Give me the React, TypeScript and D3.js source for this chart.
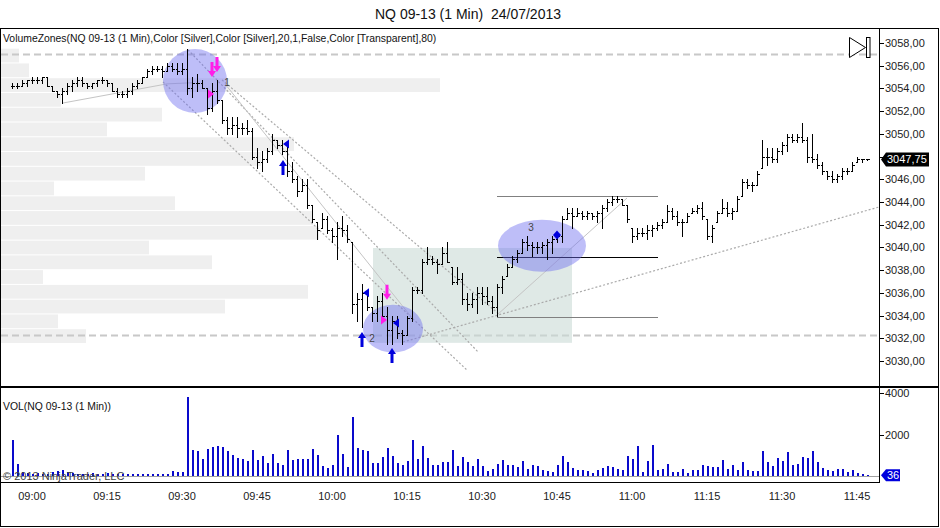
import React from 'react';
import * as d3 from 'd3';

// NQ 09-13, 1 minute bars, first bar at 08:56
const FIRST_BAR_MINUTE = 536;

const highs = [
  3054.5, 3054.5, 3054.75, 3054.75, 3055.0, 3055.0, 3055.0, 3055.0, 3054.25, 3053.75,
  3054.0, 3054.5, 3054.75, 3055.0, 3055.0, 3054.5, 3054.5, 3054.75, 3055.0, 3054.75,
  3054.5, 3054.0, 3053.75, 3054.0, 3054.5, 3054.75, 3055.0, 3055.75, 3056.0, 3056.0,
  3056.0, 3056.25, 3056.25, 3056.25, 3056.25, 3057.5, 3055.0, 3055.25, 3054.75, 3054.0,
  3054.5, 3054.75, 3053.0, 3051.5, 3051.5, 3051.5, 3051.0, 3051.25, 3050.5, 3048.75,
  3048.5, 3048.75, 3050.0, 3049.5, 3049.5, 3049.0, 3047.5, 3046.25, 3046.0, 3046.0,
  3043.75, 3042.25, 3043.0, 3042.75, 3041.75, 3042.25, 3042.75, 3042.0, 3040.5, 3036.0,
  3036.75, 3036.0, 3034.75, 3035.75, 3036.0, 3034.75, 3034.0, 3034.0, 3032.75, 3034.0,
  3036.5, 3036.5, 3039.0, 3040.0, 3039.25, 3039.0, 3040.0, 3040.5, 3038.25, 3038.25,
  3037.75, 3036.0, 3036.0, 3036.5, 3036.5, 3036.5, 3035.75, 3036.75, 3037.5, 3038.5,
  3039.25, 3039.75, 3040.75, 3041.0, 3040.5, 3040.5, 3040.5, 3040.75, 3041.0, 3041.25,
  3042.75, 3043.5, 3043.5, 3043.5, 3043.25, 3043.25, 3043.0, 3043.25, 3043.75, 3044.25,
  3044.5, 3044.5, 3044.25, 3043.75, 3041.75, 3041.75, 3041.75, 3042.0, 3042.0, 3042.25,
  3042.5, 3043.75, 3043.5, 3043.25, 3042.5, 3043.0, 3043.5, 3043.75, 3044.0, 3042.5,
  3042.0, 3043.25, 3044.25, 3044.0, 3043.5, 3044.5, 3046.0, 3046.0, 3045.75, 3046.75,
  3049.5, 3048.75, 3048.75, 3048.75, 3049.25, 3050.0, 3050.0, 3050.0, 3051.0, 3049.75,
  3050.0, 3048.25, 3047.5, 3046.75, 3046.75, 3046.5, 3047.0, 3047.0, 3047.5, 3048.0,
  3047.75, 3047.75,
];

const lows = [
  3054.0, 3054.0, 3054.25, 3054.25, 3054.5, 3054.5, 3054.5, 3054.25, 3053.75, 3053.25,
  3052.75, 3053.5, 3053.75, 3054.25, 3054.25, 3054.0, 3054.0, 3054.25, 3054.5, 3054.25,
  3053.75, 3053.25, 3053.25, 3053.25, 3053.5, 3054.0, 3054.5, 3055.0, 3055.25, 3055.5,
  3055.0, 3055.5, 3055.5, 3055.25, 3055.25, 3053.5, 3053.25, 3053.75, 3054.0, 3051.75,
  3052.0, 3052.75, 3051.0, 3050.0, 3050.0, 3049.75, 3050.0, 3050.0, 3047.75, 3047.0,
  3046.75, 3047.5, 3048.25, 3048.75, 3048.25, 3046.25, 3045.75, 3044.5, 3045.0, 3043.5,
  3042.25, 3040.75, 3041.75, 3041.25, 3040.5, 3039.0, 3041.0, 3040.5, 3034.25, 3033.5,
  3033.0, 3034.5, 3033.5, 3033.5, 3033.75, 3031.5, 3031.5, 3032.0, 3031.5, 3032.25,
  3033.5, 3036.0, 3036.0, 3038.5, 3038.5, 3037.75, 3038.5, 3038.75, 3036.75, 3036.75,
  3035.0, 3034.5, 3034.75, 3034.25, 3035.0, 3035.0, 3034.25, 3034.0, 3036.0, 3037.5,
  3038.25, 3038.75, 3039.5, 3039.75, 3039.25, 3039.5, 3039.5, 3039.0, 3039.5, 3040.5,
  3040.5, 3042.5, 3041.75, 3042.75, 3042.5, 3042.5, 3042.5, 3042.25, 3041.75, 3043.25,
  3043.75, 3044.0, 3043.75, 3042.25, 3040.5, 3040.75, 3041.0, 3040.75, 3041.0, 3041.5,
  3041.75, 3042.25, 3042.5, 3042.0, 3041.0, 3042.25, 3043.0, 3043.0, 3042.5, 3040.75,
  3040.5, 3042.25, 3043.0, 3042.75, 3042.5, 3043.25, 3044.5, 3045.25, 3045.0, 3045.5,
  3047.0, 3047.25, 3047.5, 3047.5, 3048.25, 3048.5, 3049.25, 3049.25, 3049.25, 3047.5,
  3047.5, 3047.0, 3046.5, 3046.0, 3045.75, 3045.75, 3046.0, 3046.5, 3046.75, 3047.5,
  3047.5, 3047.75,
];

const closes = [
  3054.25, 3054.25, 3054.5, 3054.75, 3054.75, 3054.75, 3055.0, 3054.25, 3053.75, 3053.5,
  3053.75, 3054.25, 3054.5, 3054.75, 3054.5, 3054.25, 3054.5, 3054.75, 3054.75, 3054.5,
  3053.75, 3053.5, 3053.5, 3053.75, 3054.25, 3054.5, 3055.0, 3055.5, 3055.75, 3055.75,
  3055.5, 3056.0, 3055.75, 3055.5, 3055.75, 3054.0, 3054.5, 3054.5, 3054.0, 3052.25,
  3053.75, 3053.0, 3051.25, 3050.5, 3050.75, 3050.5, 3050.5, 3050.25, 3048.0, 3047.5,
  3047.75, 3048.5, 3049.5, 3049.0, 3048.5, 3046.75, 3046.0, 3045.0, 3045.5, 3043.75,
  3042.5, 3041.5, 3042.5, 3041.5, 3041.0, 3041.75, 3041.5, 3040.75, 3035.0, 3035.5,
  3036.0, 3034.75, 3034.25, 3035.25, 3034.0, 3032.75, 3033.5, 3032.5, 3032.25, 3033.75,
  3036.25, 3036.25, 3038.75, 3039.0, 3038.75, 3038.5, 3039.5, 3038.75, 3037.0, 3037.25,
  3035.5, 3035.0, 3035.5, 3036.0, 3035.75, 3035.25, 3034.75, 3036.5, 3037.25, 3038.25,
  3039.0, 3039.5, 3040.5, 3040.25, 3040.0, 3040.0, 3040.25, 3040.5, 3040.75, 3041.0,
  3042.5, 3043.0, 3042.75, 3043.0, 3042.75, 3043.0, 3042.75, 3043.0, 3043.5, 3044.0,
  3044.25, 3044.25, 3043.75, 3042.5, 3041.0, 3041.25, 3041.25, 3041.5, 3041.75, 3042.0,
  3042.25, 3043.25, 3042.75, 3042.25, 3042.25, 3042.75, 3043.25, 3043.5, 3042.75, 3041.0,
  3041.75, 3043.0, 3043.5, 3043.0, 3043.25, 3044.25, 3045.75, 3045.5, 3045.5, 3046.5,
  3048.0, 3048.0, 3047.75, 3048.5, 3049.0, 3049.75, 3049.5, 3049.75, 3049.5, 3048.0,
  3047.75, 3047.25, 3046.75, 3046.25, 3046.0, 3046.25, 3046.75, 3046.75, 3047.25, 3047.75,
  3047.75, 3047.75,
];

const volumes = [
  1735, 580, 200, 150, 100, 150, 100, 120, 200, 250,
  300, 200, 150, 100, 120, 100, 150, 100, 100, 150,
  120, 100, 100, 100, 100, 100, 100, 100, 120, 100,
  100, 100, 240, 200, 200, 3820, 1250, 1200, 820, 1300,
  1400, 1450, 1400, 1200, 1010, 850, 820, 720, 1250, 770,
  960, 620, 1060, 620, 520, 1250, 770, 820, 820, 820,
  1300, 1010, 480, 390, 520, 1970, 1060, 430, 2840, 1350,
  1250, 1200, 620, 620, 910, 1350, 960, 620, 520, 720,
  1735, 820, 1450, 870, 520, 520, 670, 670, 1250, 480,
  910, 670, 480, 820, 460, 240, 360, 580, 770, 520,
  520, 430, 720, 360, 520, 480, 290, 240, 200, 520,
  960, 670, 390, 290, 290, 240, 140, 290, 390, 480,
  430, 360, 290, 960, 820, 1450, 200, 720, 1500, 290,
  360, 580, 200, 200, 360, 140, 290, 290, 520, 480,
  430, 430, 770, 360, 520, 290, 670, 290, 240, 240,
  1200, 670, 480, 870, 720, 1150, 520, 580, 910, 870,
  1200, 670, 390, 290, 240, 360, 360, 200, 290, 140,
  100, 36,
];

const timeLabels = ['09:00', '09:15', '09:30', '09:45', '10:00', '10:15', '10:30', '10:45', '11:00', '11:15', '11:30', '11:45'];
const timeTickMinutes = [540, 555, 570, 585, 600, 615, 630, 645, 660, 675, 690, 705];
const priceTicks = [3030, 3032, 3034, 3036, 3038, 3040, 3042, 3044, 3046, 3048, 3050, 3052, 3054, 3056, 3058];
const volumeTicks = [2000, 4000];

// VolumeZones rows (top price, step) and relative volume per row
const zoneTop = 3057.5;
const zoneStep = 1.3;
const zoneVolumes = [18, 28, 439, 60, 161, 106, 293, 260, 144, 53, 174, 312, 318, 148, 211, 42, 307, 224, 57, 85];

// drawing objects in (bar index, price)
const ellipses = [
  { i: 36.6, p: 3054.65, rx: 32, ry: 32 },
  { i: 76.2, p: 3032.85, rx: 30, ry: 24 },
  { i: 106, p: 3040.15, rx: 44, ry: 26 },
];
const dottedLines = [
  [35.2, 3057.4, 93.2, 3030.8],
  [42, 3054.75, 97.6, 3034.05],
  [30.2, 3054.57, 91, 3029.2],
  [78.2, 3031.67, 173.4, 3043.56],
];
const solidLines = [
  [42.6, 3054.4, 80, 3033.8],
  [97, 3034.05, 123, 3044.35],
  [10, 3052.7, 31, 3054.4],
  [31, 3054.4, 36, 3054.5],
];
const rangeLevels = [
  { p: 3044.57, color: '#808080' },
  { p: 3039.2, color: '#000' },
  { p: 3033.9, color: '#808080' },
];
const dashedLevels = [3057.0, 3032.3];
const arrowsUp = [[54.2, 3047.7], [70, 3032.55], [76, 3031.15]];
const arrowsDown = [[40, 3055.0], [41, 3055.45], [75, 3035.4]];
const leftTriangles = [[54.8, 3049.1], [70.8, 3036.0], [76.8, 3033.35]];
const rightTriangles = [[39.8, 3053.5], [74.4, 3033.6]];
const diamonds = [[109, 3041.1]];
const labels = [
  { t: '1', i: 43, p: 3054.55 },
  { t: '2', i: 72, p: 3032.0 },
  { t: '3', i: 103.8, p: 3041.75 },
];

const W = 940;
const H = 528;
const AXIS_X = 879;
const FONT = 'Liberation Sans, Arial, sans-serif';

const x = d3.scaleLinear().domain([540, 705]).range([32, 857]);
const y = d3.scaleLinear().domain([3030, 3058]).range([361, 43]);
const yv = d3.scaleLinear().domain([0, 4000]).range([476, 393]);
const zoneW = d3.scaleLinear().domain([0, d3.max(zoneVolumes) as number]).range([0, 439]);
const bx = (i: number) => x(FIRST_BAR_MINUTE + i);
const fmtPrice = (v: number) => d3.format('.2f')(v).replace('.', ',');
const px = (v: number) => Math.round(v) + 0.5;

const MAGENTA = '#ff1ee8';
const BLUE = '#0000dd';

const upArrow = (tx: number, ty: number) =>
  `M${tx},${ty} L${tx + 4},${ty + 6} L${tx + 1.5},${ty + 6} L${tx + 1.5},${ty + 15} L${tx - 1.5},${ty + 15} L${tx - 1.5},${ty + 6} L${tx - 4},${ty + 6} Z`;
const downArrow = (tx: number, ty: number) =>
  `M${tx},${ty} L${tx + 4},${ty - 6} L${tx + 1.5},${ty - 6} L${tx + 1.5},${ty - 15} L${tx - 1.5},${ty - 15} L${tx - 1.5},${ty - 6} L${tx - 4},${ty - 6} Z`;

export default function App() {
  const opens = closes.map((c, i) => {
    const prev = i === 0 ? c : closes[i - 1];
    return Math.min(highs[i], Math.max(lows[i], prev));
  });
  const lastClose = closes[closes.length - 1];
  const lastVol = volumes[volumes.length - 1];
  // the last-price marker hides the tick label underneath it
  const visiblePriceTicks = priceTicks.filter((p) => Math.abs(y(p) - y(lastClose)) > 9);

  return (
    <svg width={W} height={H} style={{ position: 'absolute', left: 0, top: 0, background: '#fff' }} fontFamily={FONT}>
      <defs>
        <clipPath id="pricePanel">
          <rect x={1} y={29} width={AXIS_X - 1} height={357} />
        </clipPath>
      </defs>
      <rect x={0} y={0} width={W} height={H} fill="#fff" />

      <text x={468} y={19} textAnchor="middle" fontSize={14} fill="#111" style={{ whiteSpace: 'pre' }}>
        NQ 09-13 (1 Min)  24/07/2013
      </text>

      <g clipPath="url(#pricePanel)">
        {zoneVolumes.map((v, k) => {
          const top = y(zoneTop - k * zoneStep);
          const bot = y(zoneTop - (k + 1) * zoneStep);
          return <rect key={k} x={1} y={top} width={zoneW(v)} height={bot - top - 1} fill="#efefef" />;
        })}
        {dashedLevels.map((p, k) => (
          <line key={k} x1={1} x2={AXIS_X} y1={px(y(p))} y2={px(y(p))} stroke="#c8c8c8" strokeWidth={2} strokeDasharray="7,4" />
        ))}
        <rect x={bx(72.2)} y={y(3039.95)} width={bx(112) - bx(72.2)} height={y(3031.6) - y(3039.95)} fill="#c9dad6" fillOpacity={0.6} />
        {dottedLines.map((l, k) => (
          <line key={k} x1={bx(l[0])} y1={y(l[1])} x2={bx(l[2])} y2={y(l[3])} stroke="#aaa" strokeWidth={1.2} strokeDasharray="2,2" />
        ))}
        {solidLines.map((l, k) => (
          <line key={k} x1={bx(l[0])} y1={y(l[1])} x2={bx(l[2])} y2={y(l[3])} stroke="#c4c4c4" strokeWidth={1} />
        ))}
        {rangeLevels.map((r, k) => (
          <line key={k} x1={bx(97)} x2={bx(129.2)} y1={px(y(r.p))} y2={px(y(r.p))} stroke={r.color} strokeWidth={1} />
        ))}
        {ellipses.map((e, k) => (
          <ellipse key={k} cx={bx(e.i)} cy={y(e.p)} rx={e.rx} ry={e.ry} fill="#6f6ff0" fillOpacity={0.45} />
        ))}
        <g stroke="#000" strokeWidth={1} shapeRendering="crispEdges">
          {highs.map((h, i) => {
            const cx = px(bx(i));
            const yh = Math.round(y(h));
            const yl = Math.max(Math.round(y(lows[i])), yh + 1);
            return (
              <g key={i}>
                <line x1={cx} x2={cx} y1={yh} y2={yl + 1} />
                <line x1={cx - 2} x2={cx} y1={px(y(opens[i]))} y2={px(y(opens[i]))} />
                <line x1={cx} x2={cx + 2.5} y1={px(y(closes[i]))} y2={px(y(closes[i]))} />
              </g>
            );
          })}
        </g>
        {arrowsUp.map((a, k) => <path key={k} d={upArrow(bx(a[0]), y(a[1]))} fill={BLUE} />)}
        {arrowsDown.map((a, k) => <path key={k} d={downArrow(bx(a[0]), y(a[1]))} fill={MAGENTA} />)}
        {leftTriangles.map((a, k) => {
          const cx = bx(a[0]);
          const cy = y(a[1]);
          return <path key={k} d={`M${cx - 3},${cy} L${cx + 3},${cy - 4.5} L${cx + 3},${cy + 4.5} Z`} fill={BLUE} />;
        })}
        {rightTriangles.map((a, k) => {
          const cx = bx(a[0]);
          const cy = y(a[1]);
          return <path key={k} d={`M${cx + 3},${cy} L${cx - 3},${cy - 4.5} L${cx - 3},${cy + 4.5} Z`} fill={MAGENTA} />;
        })}
        {diamonds.map((a, k) => {
          const cx = bx(a[0]);
          const cy = y(a[1]);
          return <path key={k} d={`M${cx},${cy - 4.5} L${cx + 4},${cy} L${cx},${cy + 4.5} L${cx - 4},${cy} Z`} fill={BLUE} />;
        })}
        {labels.map((l, k) => (
          <text key={k} x={bx(l.i)} y={y(l.p)} textAnchor="middle" dominantBaseline="central" fontSize={10} fill="#444">{l.t}</text>
        ))}
      </g>

      <text x={3} y={42} fontSize={10.4} fill="#111">
        VolumeZones(NQ 09-13 (1 Min),Color [Silver],Color [Silver],20,1,False,Color [Transparent],80)
      </text>

      {/* ▷| */}
      <path d="M849.5,37.5 L865.5,47.5 L849.5,57.5 Z" fill="#fff" stroke="#000" strokeWidth={1} />
      <rect x={866.5} y={37.5} width={3.5} height={20} fill="#fff" stroke="#000" strokeWidth={1} />

      {/* price axis */}
      {priceTicks.map((p) => (
        <line key={p} x1={AXIS_X} x2={AXIS_X + 5} y1={px(y(p))} y2={px(y(p))} stroke="#000" />
      ))}
      {visiblePriceTicks.map((p) => (
        <text key={p} x={AXIS_X + 6} y={y(p)} dominantBaseline="central" fontSize={11} fill="#222">{fmtPrice(p)}</text>
      ))}
      <path
        d={`M${AXIS_X + 2},${y(lastClose)} L${AXIS_X + 7},${y(lastClose) - 7} L929,${y(lastClose) - 7} L929,${y(lastClose) + 7} L${AXIS_X + 7},${y(lastClose) + 7} Z`}
        fill="#000"
      />
      <text x={AXIS_X + 8} y={y(lastClose)} dominantBaseline="central" fontSize={11} fill="#fff">{fmtPrice(lastClose)}</text>

      {/* volume panel */}
      <text x={3} y={410} fontSize={10.4} fill="#111">VOL(NQ 09-13 (1 Min))</text>
      <line x1={1} x2={AXIS_X} y1={476.5} y2={476.5} stroke="#a0a0a0" />
      <g fill="#0a0acc" shapeRendering="crispEdges">
        {volumes.map((v, i) => (
          <rect key={i} x={Math.round(bx(i)) - 0.5} y={yv(v)} width={2} height={476 - yv(v)} />
        ))}
      </g>
      {volumeTicks.map((v) => (
        <g key={v}>
          <line x1={AXIS_X} x2={AXIS_X + 5} y1={px(yv(v))} y2={px(yv(v))} stroke="#000" />
          <text x={AXIS_X + 6} y={yv(v)} dominantBaseline="central" fontSize={11} fill="#222">{v}</text>
        </g>
      ))}
      <path
        d={`M${AXIS_X + 2},${yv(lastVol)} L${AXIS_X + 7},${yv(lastVol) - 6} L900,${yv(lastVol) - 6} L900,${yv(lastVol) + 6} L${AXIS_X + 7},${yv(lastVol) + 6} Z`}
        fill={BLUE}
      />
      <text x={AXIS_X + 8} y={yv(lastVol)} dominantBaseline="central" fontSize={11} fill="#fff">{lastVol}</text>
      <text x={3} y={480} fontSize={11} fill="#444">© 2013 NinjaTrader, LLC</text>

      {/* time axis */}
      {timeLabels.map((t, k) => (
        <text key={t} x={x(timeTickMinutes[k])} y={496} textAnchor="middle" dominantBaseline="central" fontSize={11} fill="#222">{t}</text>
      ))}

      {/* frames */}
      <g stroke="#000" strokeWidth={1} fill="none" shapeRendering="crispEdges">
        <rect x={0.5} y={28.5} width={938} height={498} />
        <line x1={0} x2={939} y1={386.5} y2={386.5} strokeWidth={2} />
        <line x1={0} x2={AXIS_X + 0.5} y1={482.5} y2={482.5} />
        <line x1={AXIS_X + 0.5} x2={AXIS_X + 0.5} y1={28} y2={483} />
      </g>
    </svg>
  );
}
